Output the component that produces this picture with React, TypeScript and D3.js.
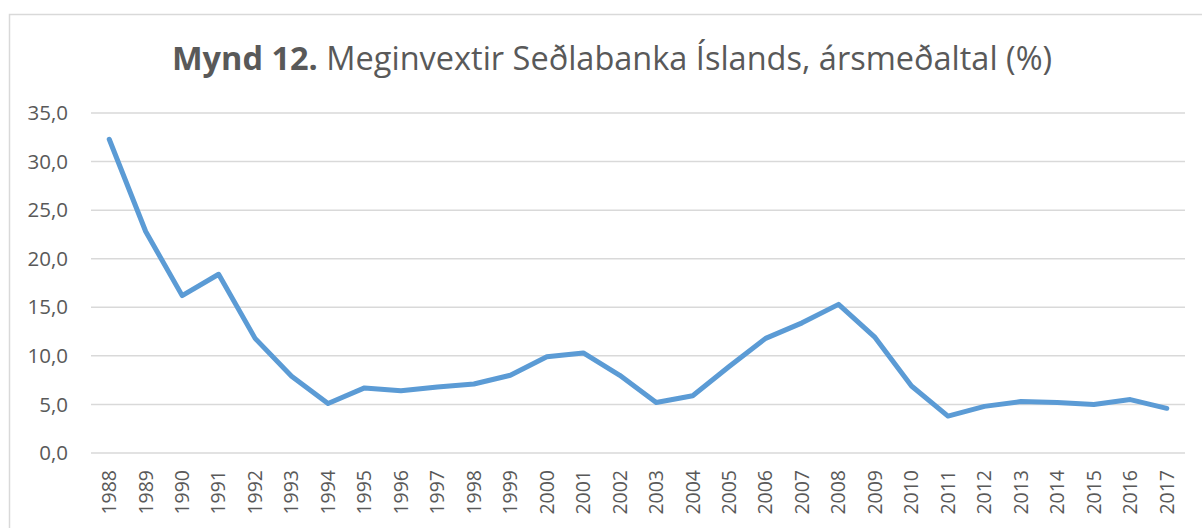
import * as d3 from "d3";

// Meginvextir Seðlabanka Íslands, ársmeðaltal (%)
const years = [
  "1988", "1989", "1990", "1991", "1992", "1993", "1994", "1995", "1996", "1997",
  "1998", "1999", "2000", "2001", "2002", "2003", "2004", "2005", "2006", "2007",
  "2008", "2009", "2010", "2011", "2012", "2013", "2014", "2015", "2016", "2017",
];
const rates = [
  32.3, 22.8, 16.2, 18.4, 11.8, 7.9, 5.1, 6.7, 6.4, 6.8,
  7.1, 8.0, 9.9, 10.3, 8.0, 5.2, 5.9, 8.9, 11.8, 13.4,
  15.3, 11.9, 6.9, 3.8, 4.8, 5.3, 5.2, 5.0, 5.5, 4.6,
];
const yTicks = [0, 5, 10, 15, 20, 25, 30, 35];

const W = 1202;
const H = 528;
const margin = { top: 113, right: 17, bottom: 75, left: 91 };
const font = "'Open Sans', sans-serif";
const grey = "#595959";

export default function App() {
  const x = d3
    .scalePoint<string>()
    .domain(years)
    .range([margin.left, W - margin.right])
    .padding(0.5);

  const y = d3
    .scaleLinear()
    .domain([0, 35])
    .range([H - margin.bottom, margin.top]);

  const line = d3
    .line<number>()
    .x((_, i) => x(years[i]) as number)
    .y((d) => y(d));

  const fmt = (v: number) => d3.format(".1f")(v).replace(".", ",");

  return (
    <svg
      width={W}
      height={H}
      style={{ position: "absolute", left: 0, top: 0, background: "#fff" }}
      fontFamily={font}
    >
      <rect x={9.5} y={14.5} width={1200} height={520} fill="#fff" stroke="#d9d9d9" strokeWidth={1.5} />

      <text x={612} y={70} textAnchor="middle" fontSize={32.5} fill={grey}>
        <tspan fontWeight="bold">Mynd 12.</tspan>
        <tspan> Meginvextir Seðlabanka Íslands, ársmeðaltal (%)</tspan>
      </text>

      {yTicks.map((t) => (
        <g key={t}>
          <line
            x1={margin.left}
            x2={W - margin.right}
            y1={y(t)}
            y2={y(t)}
            stroke="#d9d9d9"
            strokeWidth={1.5}
          />
          <text x={68} y={y(t)} dy="0.35em" textAnchor="end" fontSize={20.5} fill={grey}>
            {fmt(t)}
          </text>
        </g>
      ))}

      {years.map((yr) => (
        <text
          key={yr}
          transform={`translate(${x(yr)},${H - margin.bottom + 17}) rotate(-90)`}
          textAnchor="end"
          dy="0.35em"
          fontSize={19.5}
          fill={grey}
        >
          {yr}
        </text>
      ))}

      <path
        d={line(rates) || ""}
        fill="none"
        stroke="#5b9bd5"
        strokeWidth={5}
        strokeLinejoin="round"
        strokeLinecap="round"
      />
    </svg>
  );
}
